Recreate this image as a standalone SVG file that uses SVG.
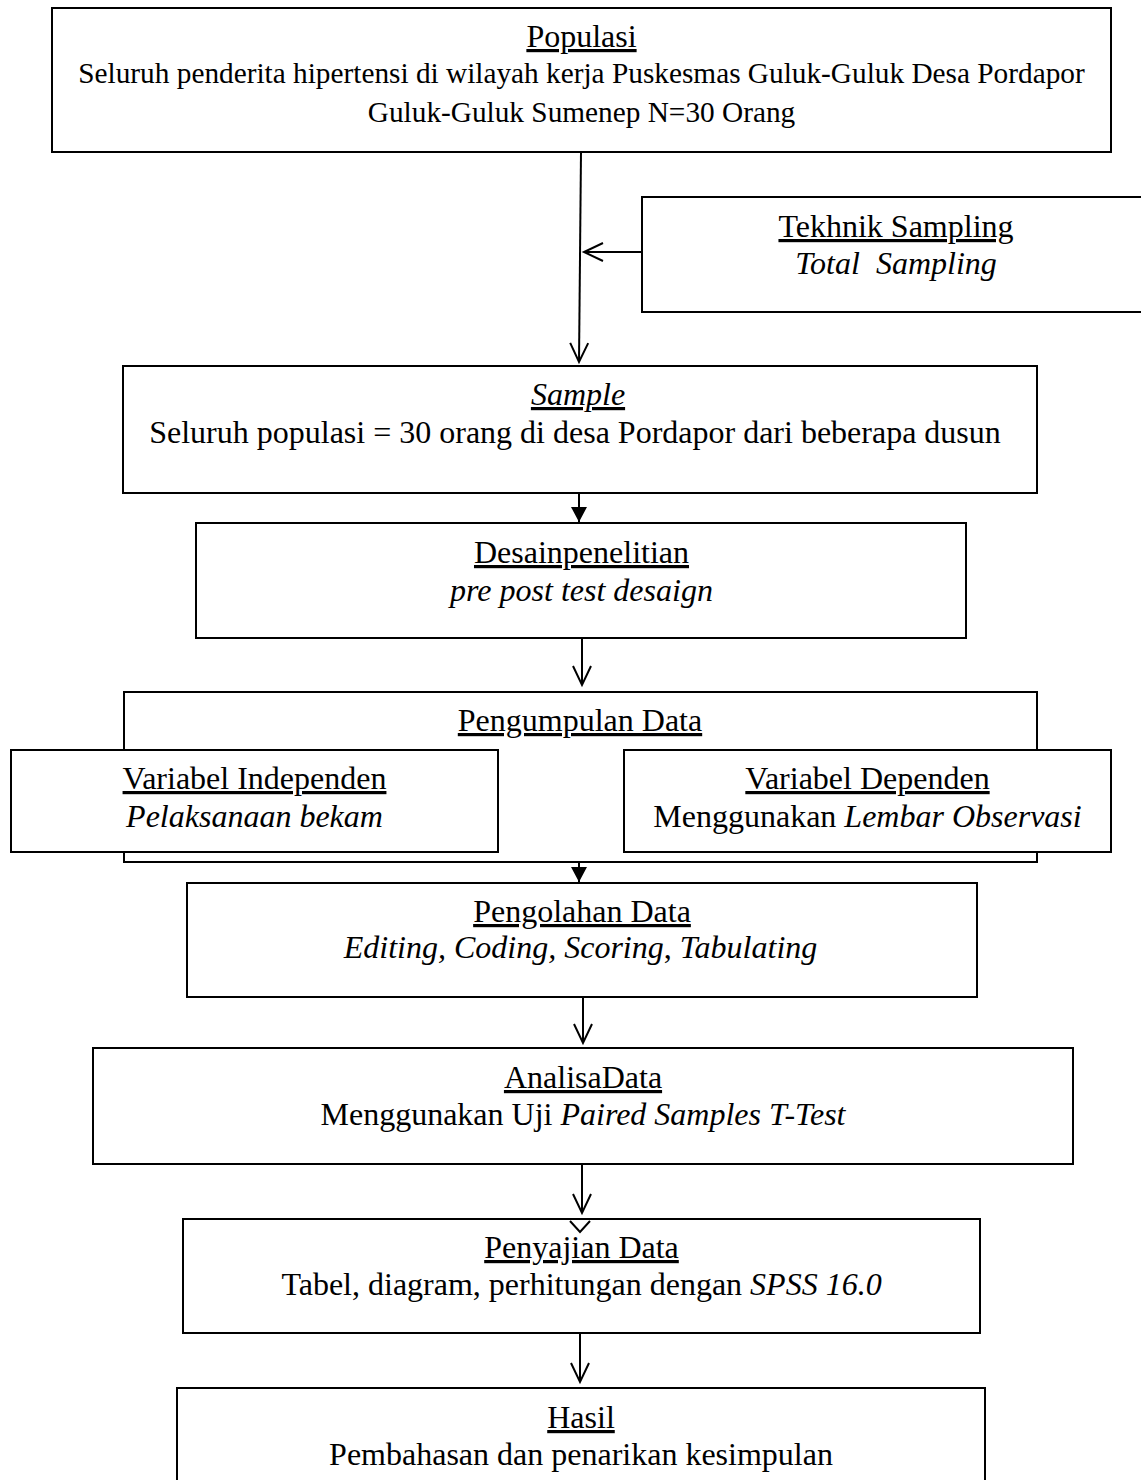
<svg xmlns="http://www.w3.org/2000/svg" width="1141" height="1480" viewBox="0 0 1141 1480">
<style>
.box{fill:#fff;stroke:#000;stroke-width:2}
text{font-family:"Liberation Serif","Times New Roman",serif;font-size:32px;fill:#000;text-anchor:middle}
.sm{font-size:29.3px}
.u{text-decoration:underline}
.i{font-style:italic}
.ln{fill:none;stroke:#000;stroke-width:2}
</style>
<defs>
<marker id="open" markerUnits="userSpaceOnUse" viewBox="-21 -11 24 22" markerWidth="24" markerHeight="22" refX="0" refY="0" orient="auto" overflow="visible">
<path d="M-19,-9 L0,0 L-19,9" fill="none" stroke="#000" stroke-width="2"/>
</marker>
<marker id="solid" markerUnits="userSpaceOnUse" viewBox="-17 -9 18 18" markerWidth="18" markerHeight="18" refX="0" refY="0" orient="auto" overflow="visible">
<path d="M-15,-8 L0,0 L-15,8 Z" fill="#000"/>
</marker>
</defs>
<rect width="1141" height="1480" fill="#fff"/>
<g id="populasi">
<rect class="box" x="52" y="8" width="1059" height="144"/>
<text x="581.5" y="47" class="u">Populasi</text>
<text x="581.5" y="83" class="sm">Seluruh penderita hipertensi di wilayah kerja Puskesmas Guluk-Guluk Desa Pordapor</text>
<text x="581.5" y="122" class="sm">Guluk-Guluk Sumenep N=30 Orang</text>
</g>
<g id="tekhnik">
<rect class="box" x="642" y="197" width="510" height="115"/>
<text x="896" y="237" class="u">Tekhnik Sampling</text>
<text x="896" y="274" class="i" xml:space="preserve">Total  Sampling</text>
</g>
<g id="sample">
<rect class="box" x="123" y="366" width="914" height="127"/>
<text x="578" y="405" class="u i">Sample</text>
<text x="575" y="443">Seluruh populasi = 30 orang di desa Pordapor dari beberapa dusun</text>
</g>
<g id="desain">
<rect class="box" x="196" y="523" width="770" height="115"/>
<text x="581.5" y="563" class="u">Desainpenelitian</text>
<text x="581.5" y="601" class="i">pre post test desaign</text>
</g>
<g id="pengumpulan">
<rect class="box" x="124" y="692" width="913" height="170"/>
<text x="580" y="731" class="u">Pengumpulan Data</text>
</g>
<g id="var-independen">
<rect class="box" x="11" y="750" width="487" height="102"/>
<text x="254.5" y="789" class="u">Variabel Independen</text>
<text x="254.5" y="827" class="i">Pelaksanaan bekam</text>
</g>
<g id="var-dependen">
<rect class="box" x="624" y="750" width="487" height="102"/>
<text x="867.5" y="789" class="u">Variabel Dependen</text>
<text x="867.5" y="827">Menggunakan <tspan class="i">Lembar Observasi</tspan></text>
</g>
<g id="pengolahan">
<rect class="box" x="187" y="883" width="790" height="114"/>
<text x="582" y="922" class="u">Pengolahan Data</text>
<text x="580.5" y="958" class="i">Editing, Coding, Scoring<tspan font-style="normal">, </tspan>Tabulating</text>
</g>
<g id="analisa">
<rect class="box" x="93" y="1048" width="980" height="116"/>
<text x="583" y="1088" class="u">AnalisaData</text>
<text x="583" y="1125">Menggunakan Uji <tspan class="i">Paired Samples T-Test</tspan></text>
</g>
<g id="penyajian">
<rect class="box" x="183" y="1219" width="797" height="114"/>
<text x="581.5" y="1258" class="u">Penyajian Data</text>
<text x="581.5" y="1295">Tabel, diagram, perhitungan dengan <tspan class="i">SPSS 16.0</tspan></text>
</g>
<g id="hasil">
<rect class="box" x="177" y="1388" width="808" height="120"/>
<text x="581" y="1428" class="u">Hasil</text>
<text x="581" y="1465">Pembahasan dan penarikan kesimpulan</text>
</g>
<g id="connectors">
<path class="ln" d="M581,152 L579,362" marker-end="url(#open)"/>
<path class="ln" d="M642,252 L584,252" marker-end="url(#open)"/>
<path class="ln" d="M579,493 L579,522" marker-end="url(#solid)"/>
<path class="ln" d="M582,638 L582,685" marker-end="url(#open)"/>
<path class="ln" d="M579,862 L579,882" marker-end="url(#solid)"/>
<path class="ln" d="M583,997 L583,1043" marker-end="url(#open)"/>
<path class="ln" d="M582,1165 L582,1213" marker-end="url(#open)"/>
<path class="ln" d="M570,1221 L580,1232 L590,1221"/>
<path class="ln" d="M580,1333 L580,1382" marker-end="url(#open)"/>
</g>
</svg>
